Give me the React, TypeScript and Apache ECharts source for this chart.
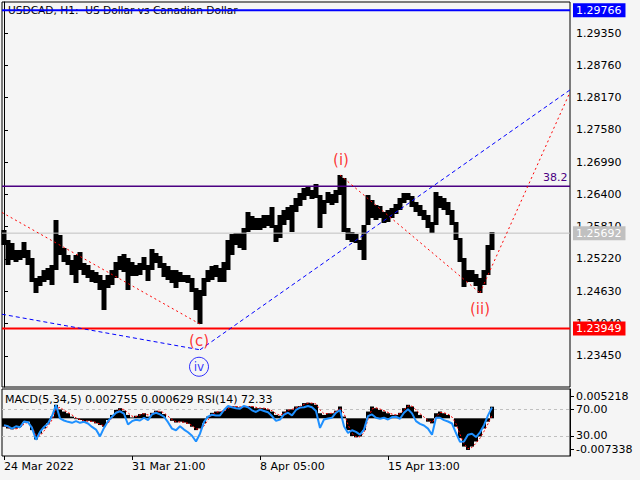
import React, { useEffect, useRef } from 'react';
import * as echarts from 'echarts';

const FONT = 'DejaVu Sans';
const titleText = 'USDCAD, H1:  US Dollar vs Canadian Dollar';
const indicatorText = 'MACD(5,34,5) 0.002755 0.000629 RSI(14) 72.33';
const timeLabels = ['24 Mar 2022', '31 Mar 21:00', '8 Apr 05:00', '15 Apr 13:00'];
const timeLabelStep = 32; // groups of 4 H1 bars between two time labels
const slotCount = 142;
const priceTicks = [1.2345, 1.2404, 1.2463, 1.2522, 1.2581, 1.264, 1.2699, 1.2758, 1.2817, 1.2876, 1.2935];
const rsiTicks = [30, 70];
const macdTicks = [-0.007338, 0.005218];

// price ranges, one per group of 4 hourly bars
const priceHigh = [
  1.2575, 1.25567, 1.25512, 1.25384, 1.25384, 1.2553, 1.25384, 1.25238, 1.24872, 1.24909,
  1.25018, 1.25055, 1.2511, 1.25932, 1.25658, 1.25421, 1.25293, 1.25201, 1.25293, 1.25347,
  1.25146, 1.2511, 1.25018, 1.24982, 1.24927, 1.24836, 1.24927, 1.25018, 1.25165, 1.25274,
  1.25311, 1.25238, 1.25165, 1.2511, 1.25146, 1.25256, 1.2511, 1.25402, 1.25329, 1.25274,
  1.25146, 1.25092, 1.25018, 1.25018, 1.24982, 1.24927, 1.24927, 1.24872, 1.24689, 1.24653,
  1.24872, 1.25018, 1.25092, 1.2511, 1.25055, 1.25165, 1.25567, 1.25676, 1.25695, 1.25695,
  1.25786, 1.26079, 1.26006, 1.25969, 1.25969, 1.26024, 1.26024, 1.2617, 1.25841, 1.26024,
  1.26115, 1.2617, 1.26207, 1.26335, 1.26426, 1.26517, 1.26554, 1.26481, 1.2659, 1.26389,
  1.26298, 1.26444, 1.26408, 1.26481, 1.26755, 1.267, 1.25786, 1.25713, 1.25676, 1.25567,
  1.25841, 1.26389, 1.26298, 1.26207, 1.26188, 1.26079, 1.26115, 1.26152, 1.26225, 1.26335,
  1.26426, 1.26426, 1.26371, 1.26261, 1.26207, 1.26115, 1.26024, 1.25896, 1.26444, 1.26371,
  1.26335, 1.26261, 1.26115, 1.25896, 1.25603, 1.25238, 1.25018, 1.25018, 1.24945, 1.24872,
  1.25018, 1.25475, 1.25713,
];
const priceLow = [
  1.25475, 1.2511, 1.25201, 1.25165, 1.25201, 1.25238, 1.2511, 1.24799, 1.24598, 1.24726,
  1.24799, 1.24836, 1.24744, 1.25018, 1.25293, 1.25165, 1.2511, 1.24927, 1.24781, 1.25018,
  1.24927, 1.24872, 1.24799, 1.24781, 1.24653, 1.24287, 1.24689, 1.24744, 1.24872, 1.25018,
  1.24982, 1.24653, 1.24909, 1.24909, 1.24927, 1.25018, 1.24817, 1.25018, 1.25146, 1.25055,
  1.2489, 1.24836, 1.24781, 1.24689, 1.24799, 1.24799, 1.24781, 1.24616, 1.24287, 1.24031,
  1.24543, 1.24799, 1.24836, 1.2489, 1.24799, 1.24799, 1.25018, 1.25293, 1.25475, 1.25421,
  1.25384, 1.25713, 1.2575, 1.2575, 1.2575, 1.25786, 1.25823, 1.25786, 1.2553, 1.25603,
  1.25841, 1.25932, 1.25713, 1.26079, 1.26188, 1.26298, 1.26371, 1.26316, 1.26335, 1.25786,
  1.26042, 1.26243, 1.26207, 1.26243, 1.26389, 1.25713, 1.25567, 1.2553, 1.25512, 1.25384,
  1.25201, 1.25841, 1.25969, 1.25932, 1.25969, 1.25878, 1.25896, 1.25969, 1.26042, 1.26115,
  1.26243, 1.26298, 1.2617, 1.26079, 1.26006, 1.25932, 1.25786, 1.25695, 1.25841, 1.26152,
  1.26115, 1.26024, 1.25841, 1.25567, 1.25165, 1.24708, 1.24799, 1.24799, 1.24726, 1.24598,
  1.24744, 1.24927, 1.25384,
];
const macd = [
  -0.002, -0.0024, -0.0026, -0.0024, -0.002, -0.001, -0.0008, -0.0028, -0.005, -0.0036,
  -0.0024, -0.0012, 0.0004, 0.0032, 0.0021, 0.0016, 0.0012, 0.0004, -0.0002, -0.0004,
  -0.0008, -0.0006, -0.0008, -0.0012, -0.0016, -0.002, -0.0004, 0.0008, 0.002, 0.0024,
  0.0018, 0.0008, 0.0002, 0.0006, 0.001, 0.0012, 0.0004, 0.0013, 0.0018, 0.0016,
  0.001, 0, -0.0006, -0.001, -0.0008, -0.001, -0.0013, -0.002, -0.0028, -0.0024,
  -0.0012, 0.0004, 0.0013, 0.0016, 0.0016, 0.0018, 0.0026, 0.0029, 0.0028, 0.0026,
  0.0028, 0.0029, 0.0028, 0.0024, 0.0024, 0.0024, 0.0021, 0.0016, 0.0008, 0.0006,
  0.0016, 0.0021, 0.0021, 0.0028, 0.0029, 0.0036, 0.0037, 0.0036, 0.0032, 0.0012,
  0.0008, 0.0012, 0.0012, 0.0018, 0.0028, 0.0004, -0.0028, -0.0042, -0.0045, -0.0043,
  -0.0028, 0.0016, 0.0028, 0.0024, 0.002, 0.0016, 0.0012, 0.0008, 0.0008, 0.0013,
  0.0024, 0.0032, 0.0028, 0.0016, 0.0008, 0, -0.0008, -0.0012, 0.0012, 0.0016,
  0.0012, 0.0008, 0, -0.002, -0.0047, -0.0067, -0.0075, -0.0067, -0.0055, -0.0043,
  -0.0024, -0.0008, 0.002755,
];
const signal = [
  -0.0018, -0.0022, -0.0025, -0.0025, -0.0022, -0.0014, -0.0009, -0.002, -0.004, -0.0042,
  -0.003, -0.0018, -0.0004, 0.0022, 0.0026, 0.0019, 0.0014, 0.0008, 0.0001, -0.0003,
  -0.0006, -0.0007, -0.0007, -0.001, -0.0014, -0.0018, -0.0012, 0.0001, 0.0014, 0.0022,
  0.0021, 0.0013, 0.0005, 0.0004, 0.0008, 0.0011, 0.0008, 0.001, 0.0016, 0.0017,
  0.0013, 0.0005, -0.0003, -0.0008, -0.0009, -0.0009, -0.0012, -0.0017, -0.0025, -0.0026,
  -0.0018, -0.0004, 0.0008, 0.0014, 0.0016, 0.0017, 0.0023, 0.0028, 0.0028, 0.0027,
  0.0027, 0.0028, 0.0028, 0.0026, 0.0024, 0.0024, 0.0022, 0.0018, 0.0011, 0.0007,
  0.0012, 0.0019, 0.0021, 0.0025, 0.0028, 0.0033, 0.0036, 0.0036, 0.0034, 0.002,
  0.0011, 0.0011, 0.0012, 0.0016, 0.0024, 0.0012, -0.0015, -0.0036, -0.0044, -0.0044,
  -0.0034, -0.0002, 0.0022, 0.0025, 0.0022, 0.0018, 0.0014, 0.001, 0.0008, 0.0011,
  0.002, 0.0029, 0.0029, 0.002, 0.0011, 0.0003, -0.0005, -0.001, 0.0003, 0.0014,
  0.0013, 0.001, 0.0003, -0.0013, -0.0038, -0.006, -0.0072, -0.0069, -0.0059, -0.0047,
  -0.0031, -0.0013, 0.000629,
];
const rsi = [
  46.0, 44.4, 40.9, 44.4, 42.9, 51.5, 50.5, 41.9, 24.2, 35.9,
  43.4, 48.5, 59.6, 75.8, 56.1, 53.0, 51.0, 49.5, 52.0, 49.5,
  51.0, 48.5, 43.4, 39.4, 29.3, 41.9, 52.0, 58.6, 64.6, 66.7,
  63.1, 47.0, 52.0, 54.0, 53.0, 57.1, 53.5, 62.1, 64.6, 62.1,
  58.6, 50.5, 40.9, 38.4, 44.4, 39.4, 35.4, 30.3, 21.7, 33.3,
  51.0, 58.6, 61.6, 60.6, 60.6, 68.7, 74.7, 72.7, 71.2, 70.7,
  74.7, 72.7, 68.2, 65.7, 69.2, 67.2, 65.2, 59.6, 52.5, 54.5,
  61.6, 64.6, 60.6, 68.7, 72.2, 72.7, 74.7, 72.7, 67.2, 41.9,
  54.5, 56.1, 57.1, 64.6, 68.7, 44.4, 34.3, 38.4, 35.9, 31.8,
  39.4, 59.6, 62.1, 57.1, 55.6, 57.1, 54.5, 58.1, 58.6, 55.6,
  64.6, 69.7, 63.6, 52.0, 48.0, 45.5, 40.9, 31.8, 57.1, 57.1,
  53.5, 51.5, 48.5, 34.3, 21.2, 21.7, 31.8, 33.3, 28.3, 35.4,
  46.0, 60.6, 72.33,
];

// horizontal levels
const levels = [
  { price: 1.29766, color: '#0000FF', width: 2, tag: '', boxed: true },
  { price: 1.2655, color: '#4B0082', width: 1.5, tag: '38.2', boxed: false },
  { price: 1.25692, color: '#C0C0C0', width: 1, tag: '', boxed: true },
  { price: 1.23949, color: '#FF0000', width: 2, tag: '', boxed: true },
];

// wave trend lines in (group index, price)
const trendLines = [
  { points: [[-0.5, 1.2607], [49, 1.2403]], color: '#FF0000', dash: [2, 3] },
  { points: [[-0.5, 1.2421], [49, 1.2356]], color: '#0000FF', dash: [4, 3] },
  { points: [[49, 1.2356], [141.5, 1.2831]], color: '#0000FF', dash: [4, 3] },
  { points: [[84, 1.26755], [119, 1.246]], color: '#FF0000', dash: [2, 3] },
  { points: [[119, 1.246], [141.5, 1.2827]], color: '#FF0000', dash: [2, 3] },
];
const waveLabels = [
  { text: '(i)', idx: 84.25, price: 1.2703, color: '#FF0000' },
  { text: '(c)', idx: 48.75, price: 1.2372, color: '#FF0000' },
  { text: '(ii)', idx: 119, price: 1.2431, color: '#FF0000' },
];
const circledLabels = [{ text: 'iv', idx: 48.75, price: 1.2325, color: '#0000FF' }];

const slots = Array.from({ length: slotCount }, (_, i) => String(i));
const labelInterval = (index: number) =>
  index % timeLabelStep === 0 && index / timeLabelStep < timeLabels.length;

const txt = { fontFamily: FONT, fontSize: 11, color: '#000' };

export default function App() {
  const ref = useRef<HTMLDivElement>(null);
  useEffect(() => {
    if (!ref.current) return;
    const chart = echarts.init(ref.current, null, { renderer: 'svg' });
    const option: any = {
      animation: false,
      backgroundColor: '#F5F5F5',
      textStyle: { fontFamily: FONT },
      title: [
        { text: titleText, left: 8, top: 4, padding: 0, z: 1, textStyle: { ...txt, fontSize: 10.6, fontWeight: 'normal' } },
        { text: indicatorText, left: 5, top: 394, padding: 0, z: 1, textStyle: { ...txt, fontWeight: 'normal' } },
      ],
      grid: [
        { left: 2, top: 2, width: 568, height: 385, show: true, borderColor: '#000', borderWidth: 1, backgroundColor: 'transparent', outerBoundsMode: 'none', containLabel: false },
        { left: 2, top: 389, width: 568, height: 67, show: true, borderColor: '#000', borderWidth: 1, backgroundColor: 'transparent', outerBoundsMode: 'none', containLabel: false },
      ],
      xAxis: [
        { type: 'category', gridIndex: 0, data: slots, boundaryGap: true, show: false },
        {
          type: 'category', gridIndex: 1, data: slots, boundaryGap: true,
          axisLine: { show: false },
          axisTick: { show: true, interval: labelInterval, alignWithLabel: true, length: 4, lineStyle: { color: '#000' } },
          axisLabel: {
            ...txt, interval: labelInterval, align: 'left', margin: 5,
            formatter: (_v: string, i: number) => timeLabels[i / timeLabelStep] ?? '',
          },
          splitLine: { show: false },
        },
        { type: 'value', gridIndex: 0, min: -0.5, max: slotCount - 0.5, show: false },
      ],
      yAxis: [
        {
          type: 'value', gridIndex: 0, position: 'right', min: 1.2288, max: 1.29917,
          axisLine: { show: true, lineStyle: { color: '#000' } },
          axisTick: { show: true, customValues: priceTicks, length: 4, lineStyle: { color: '#000' } },
          axisLabel: { ...txt, customValues: priceTicks, margin: 6, formatter: (v: number) => v.toFixed(5) },
          splitLine: { show: false },
        },
        {
          type: 'value', gridIndex: 1, position: 'right', min: 0, max: 100,
          axisLine: { show: true, lineStyle: { color: '#000' } },
          axisTick: { show: true, customValues: rsiTicks, length: 4, lineStyle: { color: '#000' } },
          axisLabel: { ...txt, customValues: rsiTicks, margin: 6, formatter: (v: number) => v.toFixed(2) },
          splitLine: { show: false },
        },
        {
          type: 'value', gridIndex: 1, position: 'right', min: -0.008931, max: 0.006941, offset: 0,
          axisLine: { show: false },
          axisTick: { show: true, customValues: macdTicks, length: 4, lineStyle: { color: '#000' } },
          axisLabel: { ...txt, customValues: macdTicks, margin: 6, formatter: (v: number) => v.toFixed(6) },
          splitLine: { show: false },
        },
      ],
      series: [
        {
          type: 'candlestick', xAxisIndex: 0, yAxisIndex: 0, barWidth: 5, silent: true, z: 2,
          data: priceLow.map((l, i) => [l, priceHigh[i], l, priceHigh[i]]),
          itemStyle: { color: '#000', color0: '#000', borderColor: '#000', borderColor0: '#000', borderWidth: 0 },
        },
        ...levels.map((l) => ({
          type: 'line', xAxisIndex: 2, yAxisIndex: 0, symbol: 'none', silent: true, z: 3,
          data: [[-0.5, l.price], [slotCount - 0.5, l.price]],
          lineStyle: { color: l.color, width: l.width, type: 'solid' },
          endLabel: l.boxed
            ? { show: true, formatter: l.price.toFixed(5), color: '#FFFFFF', backgroundColor: l.color, padding: [1, 4, 1, 3], lineHeight: 12, distance: 3, fontFamily: FONT, fontSize: 11 }
            : { show: true, formatter: l.tag, color: l.color, fontFamily: FONT, fontSize: 11, distance: 0, offset: [-27, -9] },
        })),
        ...trendLines.map((t) => ({
          type: 'line', xAxisIndex: 2, yAxisIndex: 0, data: t.points, symbol: 'none', silent: true, z: 3,
          lineStyle: { color: t.color, width: 1, type: t.dash },
        })),
        {
          type: 'scatter', xAxisIndex: 2, yAxisIndex: 0, symbolSize: 1, silent: true, z: 4,
          itemStyle: { color: 'rgba(0,0,0,0)' },
          data: waveLabels.map((w) => ({
            value: [w.idx, w.price],
            label: { show: true, position: 'inside', formatter: w.text, color: w.color, fontFamily: FONT, fontSize: 15 },
          })),
        },
        {
          type: 'scatter', xAxisIndex: 2, yAxisIndex: 0, symbol: 'circle', symbolSize: 19, silent: true, z: 4,
          itemStyle: { color: 'rgba(0,0,0,0)', borderColor: '#0000FF', borderWidth: 1 },
          data: circledLabels.map((w) => ({
            value: [w.idx, w.price],
            label: { show: true, position: 'inside', formatter: w.text, color: w.color, fontFamily: FONT, fontSize: 12 },
          })),
        },
        {
          type: 'bar', xAxisIndex: 1, yAxisIndex: 2, data: macd, barWidth: 4, silent: true, z: 2,
          itemStyle: { color: '#000' },
        },
        {
          type: 'line', xAxisIndex: 1, yAxisIndex: 2, data: signal, symbol: 'none', silent: true, z: 3,
          lineStyle: { color: '#FF0000', width: 1, type: [2, 2] },
        },
        {
          type: 'line', xAxisIndex: 1, yAxisIndex: 1, data: rsi, symbol: 'none', silent: true, z: 4,
          lineStyle: { color: '#1E90FF', width: 2 },
          markLine: {
            silent: true, symbol: ['none', 'none'], z: 1, animation: false,
            label: { show: false },
            lineStyle: { color: '#C0C0C0', width: 1, type: [3, 3] },
            data: rsiTicks.map((v) => ({ yAxis: v })),
          },
        },
      ],
    };
    chart.setOption(option);
    return () => chart.dispose();
  }, []);
  return (
    <div
      ref={ref}
      style={{ position: 'fixed', left: 0, top: 0, width: 640, height: 480, background: '#F5F5F5' }}
    />
  );
}
